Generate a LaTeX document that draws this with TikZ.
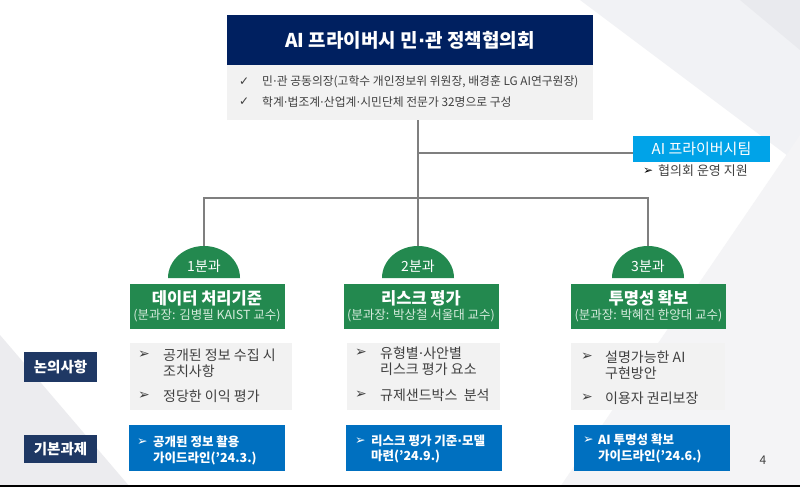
\documentclass[tikz,border=0pt]{standalone}
\usepackage{fontspec}
\setmainfont{Noto Sans CJK KR}
\newfontfamily\symf{DejaVu Sans}
\newcommand{\md}{{\symf ·}}
\definecolor{navy}{HTML}{002060}
\definecolor{navyl}{HTML}{1F3864}
\definecolor{grn}{HTML}{23894F}
\definecolor{gsub}{HTML}{D6EBDD}
\definecolor{blu}{HTML}{0070C0}
\definecolor{sky}{HTML}{00A3E8}
\definecolor{lgray}{HTML}{F2F2F2}
\definecolor{lnk}{HTML}{7F7F7F}
\definecolor{txtc}{HTML}{404040}
\definecolor{bgA}{HTML}{F1F2F5}
\definecolor{bgB}{HTML}{F4F4F6}
\definecolor{bgC}{HTML}{E9EAEE}
\definecolor{bgD}{HTML}{ECECEF}
\newcommand{\fs}[1]{\fontsize{#1}{#1}\selectfont}
\begin{document}
\begin{tikzpicture}[x=1pt,y=-1pt,
  box/.style={inner sep=0, outer sep=0, align=center},
  conn/.style={draw=lnk, line width=2.3pt},
  tx/.style={inner sep=0, anchor=west, text=txtc, font=\fs{14}},
  bl/.style={inner sep=0, anchor=west, text=txtc, font=\symf\fs{14}},
  btx/.style={inner sep=0, anchor=west, text=white, font=\bfseries\fs{12.5}},
  bbl/.style={inner sep=0, anchor=west, text=white, font=\symf\fs{12.5}},
  gbox/.style={box, fill=grn, minimum width=155pt, minimum height=45pt, text=white},
  graybox/.style={box, fill=lgray, minimum height=67pt},
  bluebox/.style={box, fill=blu, minimum width=156pt, minimum height=46pt},
  semi/.style={fill=grn},
  semitxt/.style={inner sep=0, text=white, font=\fs{14}},
  lab/.style={box, fill=navyl, minimum width=73pt, text=white, font=\bfseries\fs{14.5}}
]
\useasboundingbox (0,0) rectangle (800,487);
\fill[white] (0,0) rectangle (800,487);
% background decoration
\fill[bgA] (580,0) -- (800,0) -- (800,165) -- cycle;
\fill[bgB] (800,135) -- (560,487) -- (800,487) -- cycle;
\fill[bgC] (740,0) -- (800,0) -- (800,50) -- cycle;
\fill[bgD] (0,335) -- (130,487) -- (0,487) -- cycle;
\fill[black] (0,485) rectangle (800,487);

% title
\node[box, fill=navy, minimum width=366pt, minimum height=50pt, text=white,
      font=\bfseries\fs{19}] (title) at (410,40) {AI 프라이버시 민\md 관 정책협의회};
\node[box, fill=lgray, minimum width=366pt, minimum height=55pt, anchor=north] (info) at (title.south) {};
\node[inner sep=0, anchor=west, text=txtc, font=\symf\fs{12}] (ck1) at (239,82) {✓};
\node[inner sep=0, anchor=west, text=txtc, font=\fs{11.8}] (it1) at (262,82) {민\md 관 공동의장(고학수 개인정보위 위원장, 배경훈 LG AI연구원장)};
\node[inner sep=0, anchor=west, text=txtc, font=\symf\fs{12}] (ck2) at (239,102) {✓};
\node[inner sep=0, anchor=west, text=txtc, font=\fs{11.8}] (it2) at (262,102) {학계\md 법조계\md 산업계\md 시민단체 전문가 32명으로 구성};

% AI privacy team
\node[box, fill=sky, minimum width=137pt, minimum height=26pt, text=white, font=\fs{15}] (team) at (701.5,149) {AI 프라이버시팀};
\node[inner sep=0, anchor=west, text=black, font=\symf\fs{12}] (tb) at (643,171) {➢};
\node[inner sep=0, anchor=west, text=txtc, font=\fs{13}] (tt) at (658,171) {협의회 운영 지원};

% semicircles
\foreach \cx/\nm/\lb in {204/s1/1분과, 418/s2/2분과, 648/s3/3분과}{
  \fill[semi] (\cx,278) ++(-36,0) arc[start angle=180, end angle=0, x radius=36pt, y radius=32pt] -- cycle;
  \node[semitxt] (\nm) at (\cx,266) {\lb};
  \coordinate (\nm top) at (\cx,246);
}

% connectors
\coordinate (topb) at (418,120);
\coordinate (jt) at (418,153);
\coordinate (jl) at (204,198);
\coordinate (jr) at (648,198);
\draw[conn] (topb) -- (s2top);
\draw[conn] (jt) -- (jt -| team.west);
\draw[conn] (s1top) -- (jl) -- (jr) -- (s3top);

% green boxes
\node[gbox] (g1) at (207,306.5) {{\bfseries\fs{16.5}데이터 처리기준}\\[3pt]{\color{gsub}\fs{12.5}(분과장: 김병필 KAIST 교수)}};
\node[gbox] (g2) at (421,306.5) {{\bfseries\fs{16.5}리스크 평가}\\[3pt]{\color{gsub}\fs{12.5}(분과장: 박상철 서울대 교수)}};
\node[gbox] (g3) at (648.5,306.5) {{\bfseries\fs{16.5}투명성 확보}\\[3pt]{\color{gsub}\fs{12.5}(분과장: 박혜진 한양대 교수)}};

% gray boxes
\node[graybox, minimum width=162pt] (d1) at (211,376.5) {};
\node[graybox, minimum width=153pt] (d2) at (423.5,376.5) {};
\node[graybox, minimum width=154pt] (d3) at (648,376.5) {};

\node[bl] (d1b1) at (138,355) {➢};
\node[tx] (d1t1) at (163,355) {공개된 정보 수집 시};
\node[tx] (d1t2) at (163,371) {조치사항};
\node[bl] (d1b2) at (138,396) {➢};
\node[tx] (d1t3) at (163,396) {정당한 이익 평가};

\node[bl] (d2b1) at (355,353) {➢};
\node[tx] (d2t1) at (380,353) {유형별\md 사안별};
\node[tx] (d2t2) at (380,369) {리스크 평가 요소};
\node[bl] (d2b2) at (355,395) {➢};
\node[tx] (d2t3) at (380,395) {규제샌드박스\ \ 분석};

\node[bl] (d3b1) at (581,357) {➢};
\node[tx] (d3t1) at (605,357) {설명가능한 AI};
\node[tx] (d3t2) at (605,373) {구현방안};
\node[bl] (d3b2) at (581,398) {➢};
\node[tx] (d3t3) at (605,398) {이용자 권리보장};

% blue boxes
\node[bluebox] (b1) at (207,448) {};
\node[bluebox] (b2) at (424,448) {};
\node[bluebox] (b3) at (652,448) {};

\node[bbl] (b1b) at (137,442) {➢};
\node[btx] (b1t1) at (153,442) {공개된 정보 활용};
\node[btx] (b1t2) at (153,458) {가이드라인(’24.3.)};

\node[bbl] (b2b) at (355,441) {➢};
\node[btx] (b2t1) at (371,441) {리스크 평가 기준\md 모델};
\node[btx] (b2t2) at (371,457) {마련(’24.9.)};

\node[bbl] (b3b) at (583,440) {➢};
\node[btx] (b3t1) at (598,440) {AI 투명성 확보};
\node[btx] (b3t2) at (598,456) {가이드라인(’24.6.)};

% left labels
\node[lab, minimum height=30pt] (l1) at (60.5,367) {논의사항};
\node[lab, minimum height=28pt] (l2) at (60.5,449) {기본과제};

% page number
\node[inner sep=0, text=txtc, font=\fs{12}] (pg) at (763,460) {4};
\end{tikzpicture}
\end{document}
